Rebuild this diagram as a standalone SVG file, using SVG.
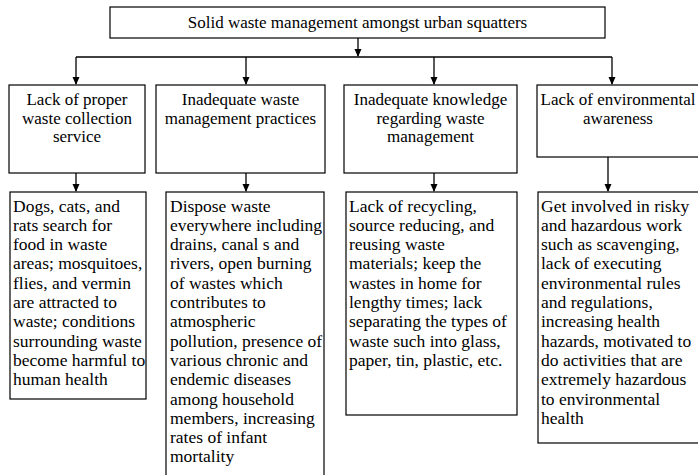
<svg xmlns="http://www.w3.org/2000/svg" width="698" height="475" viewBox="0 0 698 475">
<style>
.box{fill:#fff;stroke:#000;stroke-width:1.2}
.t{font-family:"Liberation Serif","Times New Roman",serif;fill:#000}
.h{font-size:17px;text-anchor:middle}
.d{font-size:17.5px}
.ln{fill:none;stroke:#000;stroke-width:1.3}
</style>
<defs>
<marker id="ah" markerWidth="8" markerHeight="10" refX="7" refY="3.5" orient="auto" markerUnits="userSpaceOnUse" viewBox="0 0 8 7">
<path d="M0,0 L8,3.5 L0,7 Z" fill="#000"/>
</marker>
</defs>
<rect width="698" height="475" fill="#fff"/>
<g id="connectors">
<line class="ln" x1="358" y1="38" x2="358" y2="56" marker-end="url(#ah)"/>
<line class="ln" x1="76" y1="57" x2="612" y2="57"/>
<line class="ln" x1="76" y1="57" x2="76" y2="84" marker-end="url(#ah)"/>
<line class="ln" x1="246" y1="57" x2="246" y2="84" marker-end="url(#ah)"/>
<line class="ln" x1="434" y1="57" x2="434" y2="84" marker-end="url(#ah)"/>
<line class="ln" x1="612" y1="57" x2="612" y2="84" marker-end="url(#ah)"/>
<line class="ln" x1="76" y1="173" x2="76" y2="191" marker-end="url(#ah)"/>
<line class="ln" x1="246" y1="173" x2="246" y2="191" marker-end="url(#ah)"/>
<line class="ln" x1="434" y1="173" x2="434" y2="191" marker-end="url(#ah)"/>
<line class="ln" x1="608" y1="157" x2="608" y2="191" marker-end="url(#ah)"/>
</g>
<g id="root">
<rect class="box" x="110" y="7" width="495" height="31"/>
<text class="t h" x="357.5" y="28">Solid waste management amongst urban squatters</text>
</g>
<g id="cause1">
<rect class="box" x="9" y="85" width="136" height="88"/>
<text class="t h" x="77" y="105">Lack of proper</text>
<text class="t h" x="77" y="123.5">waste collection</text>
<text class="t h" x="77" y="142">service</text>
</g>
<g id="cause2">
<rect class="box" x="156" y="85" width="169" height="88"/>
<text class="t h" x="240.5" y="105">Inadequate waste</text>
<text class="t h" x="240.5" y="123.5">management practices</text>
</g>
<g id="cause3">
<rect class="box" x="344" y="85" width="173" height="88"/>
<text class="t h" x="430.5" y="105">Inadequate knowledge</text>
<text class="t h" x="430.5" y="123.5">regarding waste</text>
<text class="t h" x="430.5" y="142">management</text>
</g>
<g id="cause4">
<rect class="box" x="537" y="85" width="165" height="72"/>
<text class="t h" x="618" y="105">Lack of environmental</text>
<text class="t h" x="618" y="123.5">awareness</text>
</g>
<g id="effect1">
<rect class="box" x="10" y="192" width="136" height="207"/>
<text class="t d" x="13" y="211.5">
<tspan x="13" dy="0">Dogs, cats, and</tspan>
<tspan x="13" dy="19.3">rats search for</tspan>
<tspan x="13" dy="19.3">food in waste</tspan>
<tspan x="13" dy="19.3">areas; mosquitoes,</tspan>
<tspan x="13" dy="19.3">flies, and vermin</tspan>
<tspan x="13" dy="19.3">are attracted to</tspan>
<tspan x="13" dy="19.3">waste; conditions</tspan>
<tspan x="13" dy="19.3">surrounding waste</tspan>
<tspan x="13" dy="19.3">become harmful to</tspan>
<tspan x="13" dy="19.3">human health</tspan>
</text>
</g>
<g id="effect2">
<rect class="box" x="166" y="192" width="158" height="300"/>
<text class="t d" x="170" y="211.5">
<tspan x="170" dy="0">Dispose waste</tspan>
<tspan x="170" dy="19.3">everywhere including</tspan>
<tspan x="170" dy="19.3">drains, canal s and</tspan>
<tspan x="170" dy="19.3">rivers, open burning</tspan>
<tspan x="170" dy="19.3">of wastes which</tspan>
<tspan x="170" dy="19.3">contributes to</tspan>
<tspan x="170" dy="19.3">atmospheric</tspan>
<tspan x="170" dy="19.3">pollution, presence of</tspan>
<tspan x="170" dy="19.3">various chronic and</tspan>
<tspan x="170" dy="19.3">endemic diseases</tspan>
<tspan x="170" dy="19.3">among household</tspan>
<tspan x="170" dy="19.3">members, increasing</tspan>
<tspan x="170" dy="19.3">rates of infant</tspan>
<tspan x="170" dy="19.3">mortality</tspan>
</text>
</g>
<g id="effect3">
<rect class="box" x="346" y="192" width="171" height="223"/>
<text class="t d" x="349" y="211.5">
<tspan x="349" dy="0">Lack of recycling,</tspan>
<tspan x="349" dy="19.3">source reducing, and</tspan>
<tspan x="349" dy="19.3">reusing waste</tspan>
<tspan x="349" dy="19.3">materials; keep the</tspan>
<tspan x="349" dy="19.3">wastes in home for</tspan>
<tspan x="349" dy="19.3">lengthy times; lack</tspan>
<tspan x="349" dy="19.3">separating the types of</tspan>
<tspan x="349" dy="19.3">waste such into glass,</tspan>
<tspan x="349" dy="19.3">paper, tin, plastic, etc.</tspan>
</text>
</g>
<g id="effect4">
<rect class="box" x="538" y="192" width="164" height="251"/>
<text class="t d" x="541" y="211.5">
<tspan x="541" dy="0">Get involved in risky</tspan>
<tspan x="541" dy="19.3">and hazardous work</tspan>
<tspan x="541" dy="19.3">such as scavenging,</tspan>
<tspan x="541" dy="19.3">lack of executing</tspan>
<tspan x="541" dy="19.3">environmental rules</tspan>
<tspan x="541" dy="19.3">and regulations,</tspan>
<tspan x="541" dy="19.3">increasing health</tspan>
<tspan x="541" dy="19.3">hazards, motivated to</tspan>
<tspan x="541" dy="19.3">do activities that are</tspan>
<tspan x="541" dy="19.3">extremely hazardous</tspan>
<tspan x="541" dy="19.3">to environmental</tspan>
<tspan x="541" dy="19.3">health</tspan>
</text>
</g>
</svg>
